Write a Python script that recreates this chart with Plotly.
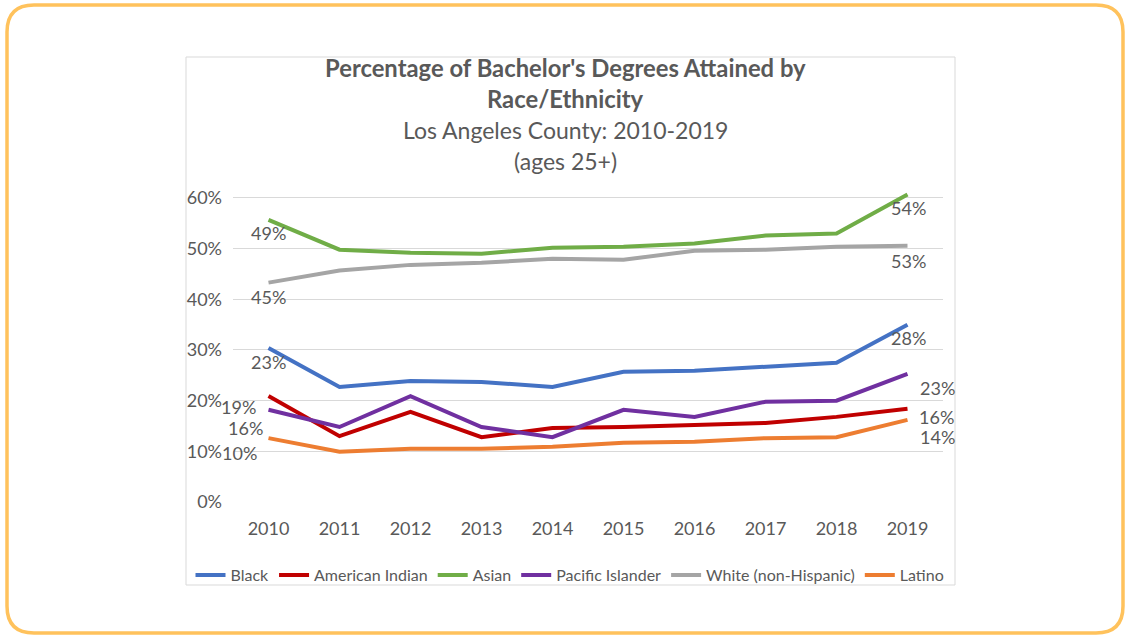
import plotly.graph_objects as go

# ---------------- data ----------------
years = [2010, 2011, 2012, 2013, 2014, 2015, 2016, 2017, 2018, 2019]
series_names = ["Black", "American Indian", "Asian", "Pacific Islander",
                "White (non-Hispanic)", "Latino"]
black = [30.4, 22.7, 23.9, 23.7, 22.7, 25.7, 25.9, 26.7, 27.5, 35.0]
american_indian = [20.9, 13.0, 17.8, 12.8, 14.6, 14.8, 15.2, 15.6, 16.8, 18.4]
asian = [55.7, 49.8, 49.2, 49.0, 50.2, 50.4, 51.0, 52.6, 53.0, 60.7]
pacific_islander = [18.2, 14.8, 20.9, 14.8, 12.8, 18.2, 16.8, 19.8, 20.0, 25.3]
white = [43.3, 45.7, 46.8, 47.2, 48.0, 47.8, 49.6, 49.8, 50.4, 50.6]
latino = [12.6, 9.9, 10.5, 10.5, 10.9, 11.7, 11.9, 12.6, 12.8, 16.2]

# data labels shown at the start and end of each line (as printed in the chart)
start_labels = ["23%", "16%", "49%", "19%", "45%", "10%"]
end_labels = ["28%", "16%", "54%", "23%", "53%", "14%"]

y_ticks = [0, 10, 20, 30, 40, 50, 60]
y_tick_text = ["0%", "10%", "20%", "30%", "40%", "50%", "60%"]

title_line1 = "Percentage of Bachelor's Degrees Attained by"
title_line2 = "Race/Ethnicity"
subtitle_line1 = "Los Angeles County: 2010-2019"
subtitle_line2 = "(ages 25+)"

# ---------------- style ----------------
W, H = 1128, 638
FONT = "Lato"
TEXT = "#595959"
colors = ["#4472C4", "#C00000", "#70AD47", "#7030A0", "#A5A5A5", "#ED7D31"]
# label pixel offsets (xshift, yshift) relative to first / last point
start_offsets = [(0, -14), (-23, -32), (0, -13), (-30, 3), (0, -14), (-29, -15)]
end_offsets = [(1, -13), (29, -8), (1, -14), (30, -14), (1, -15), (30, -17)]

all_values = [black, american_indian, asian, pacific_islander, white, latino]

Y_MAX = 62           # axis top (gridlines stop at 60%)
PX_PER_UNIT = (502 - 198) / 60.0


def px_x(p):
    return p / W


def px_y(p):
    return 1 - p / H


fig = go.Figure()
for name, vals, col in zip(series_names, all_values, colors):
    fig.add_trace(go.Scatter(
        x=years, y=vals, mode="lines", name=name,
        line=dict(color=col, width=4),
        hoverinfo="x+y+name",
    ))

annotations = []
for vals, sl, el, so, eo in zip(all_values, start_labels, end_labels,
                                start_offsets, end_offsets):
    annotations.append(dict(x=years[0], y=vals[0], xref="x", yref="y",
                            text=sl, showarrow=False, xshift=so[0], yshift=so[1],
                            font=dict(family=FONT, size=18, color=TEXT)))
    annotations.append(dict(x=years[-1], y=vals[-1], xref="x", yref="y",
                            text=el, showarrow=False, xshift=eo[0], yshift=eo[1],
                            font=dict(family=FONT, size=18, color=TEXT)))

title_specs = [
    (title_line1, 68, True, 23.8),
    (title_line2, 99, True, 23.8),
    (subtitle_line1, 130, False, 23),
    (subtitle_line2, 161, False, 23),
]
for txt, yc, bold, size in title_specs:
    annotations.append(dict(
        x=px_x(565), y=px_y(yc), xref="paper", yref="paper",
        xanchor="center", yanchor="middle", showarrow=False,
        text=f"<b>{txt}</b>" if bold else txt,
        font=dict(family=FONT, size=size, color=TEXT)))

# frames: inner chart-image border and outer rounded orange border
x0, x1, y0, y1, r = 7, 1123, 5, 633, 27
rx, ry = r / W, r / H
X0, X1, Y0, Y1 = px_x(x0), px_x(x1), px_y(y0), px_y(y1)
rounded = (f"M {X0 + rx},{Y0} L {X1 - rx},{Y0} Q {X1},{Y0} {X1},{Y0 - ry} "
           f"L {X1},{Y1 + ry} Q {X1},{Y1} {X1 - rx},{Y1} "
           f"L {X0 + rx},{Y1} Q {X0},{Y1} {X0},{Y1 + ry} "
           f"L {X0},{Y0 - ry} Q {X0},{Y0} {X0 + rx},{Y0} Z")
shapes = [
    dict(type="rect", xref="paper", yref="paper",
         x0=px_x(186), x1=px_x(955), y0=px_y(585), y1=px_y(57),
         line=dict(color="#D9D9D9", width=1), layer="below"),
    dict(type="path", xref="paper", yref="paper", path=rounded,
         line=dict(color="#FFC25C", width=3.5)),
]

fig.update_layout(
    width=W, height=H,
    margin=dict(l=0, r=0, t=0, b=0, pad=0, autoexpand=False),
    paper_bgcolor="white", plot_bgcolor="white",
    font=dict(family=FONT, color=TEXT),
    showlegend=True,
    legend=dict(orientation="h", x=px_x(570), xanchor="center",
                y=px_y(575), yanchor="middle",
                font=dict(family=FONT, size=16, color=TEXT),
                itemwidth=30, tracegroupgap=0, bgcolor="rgba(0,0,0,0)"),
    xaxis=dict(domain=[px_x(233), px_x(943)], range=[2009.5, 2019.5],
               tickvals=years, ticktext=[str(y) for y in years],
               showgrid=False, zeroline=False, showline=False, ticks="",
               ticklabelstandoff=14, automargin=False,
               tickfont=dict(family=FONT, size=18, color=TEXT), fixedrange=True),
    yaxis=dict(domain=[px_y(502), px_y(502 - Y_MAX * PX_PER_UNIT)],
               range=[0, Y_MAX],
               tickvals=y_ticks, ticktext=y_tick_text,
               showgrid=True, gridcolor="#D9D9D9", gridwidth=1,
               zeroline=False, showline=False, ticks="",
               ticklabelstandoff=10, automargin=False,
               tickfont=dict(family=FONT, size=18, color=TEXT), fixedrange=True),
    annotations=annotations,
    shapes=shapes,
)

fig.write_html(
    "out.html",
    config={"displayModeBar": False},
    post_script="document.body.style.margin='0';document.body.style.padding='0';"
                "document.documentElement.style.overflow='hidden';",
)
